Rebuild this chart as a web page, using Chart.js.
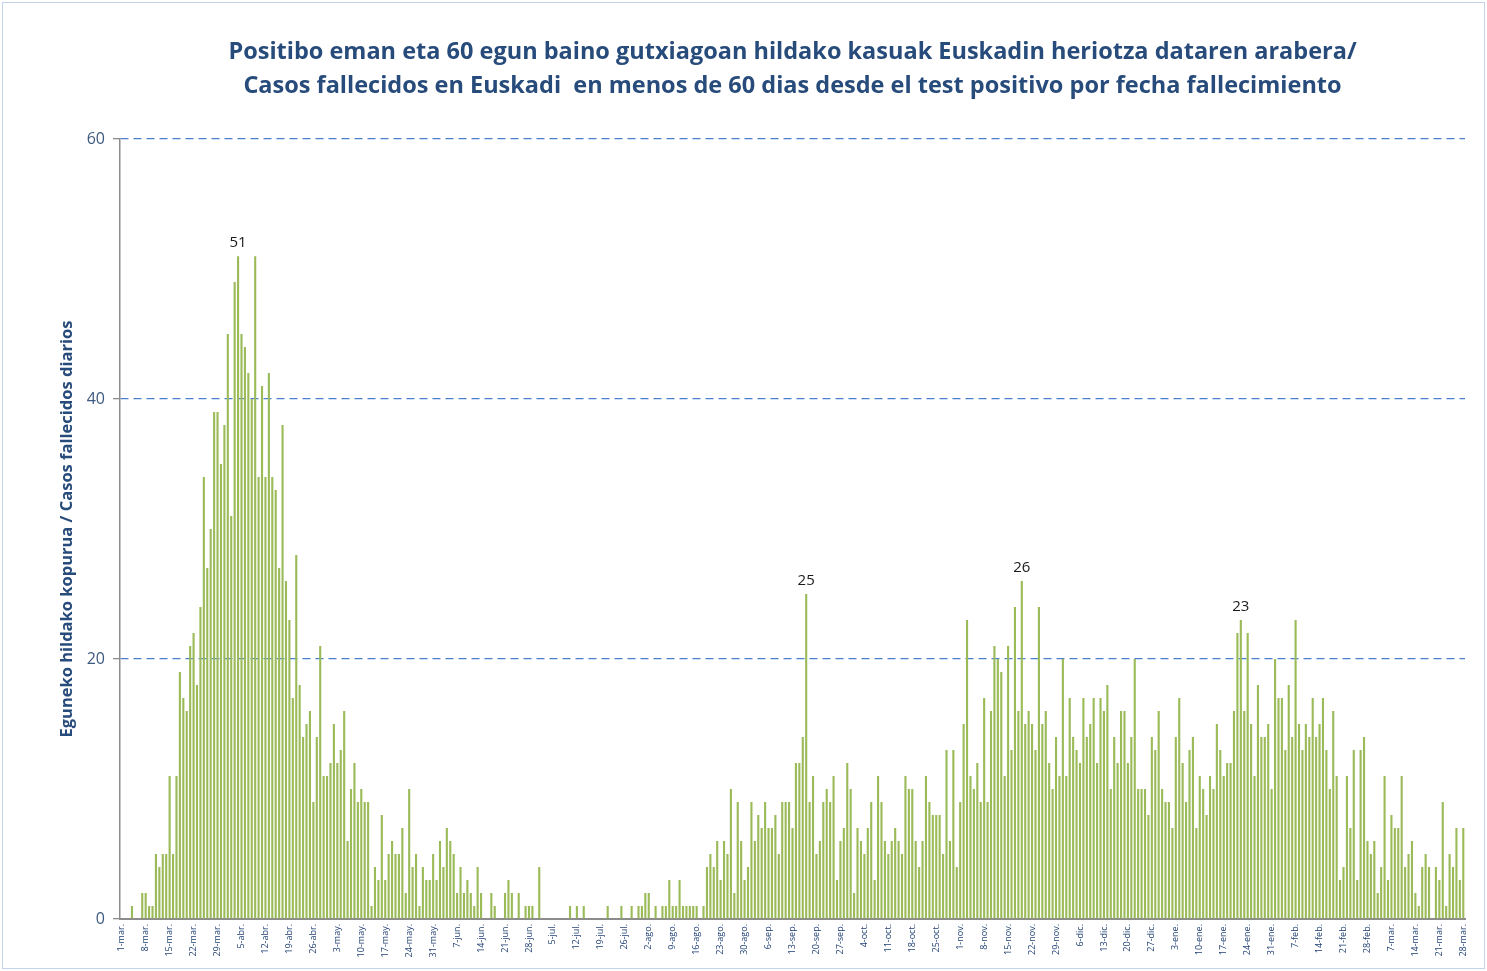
<!DOCTYPE html>
<html>
<head>
<meta charset="utf-8">
<script src="https://cdn.jsdelivr.net/npm/chart.js@4.4.1/dist/chart.umd.min.js"></script>
<style>
    html, body { margin: 0; padding: 0; background: #fff; }
    #wrap { position: relative; width: 1487px; height: 971px; }
    #frame { position: absolute; left: 2px; top: 2px; width: 1481px; height: 965px; border: 1px solid #c3d3ea; pointer-events: none; }
    canvas { position: absolute; left: 0; top: 0; }
</style>
</head>
<body>
<div id="wrap">
    <canvas id="chart" width="1487" height="971"></canvas>
    <div id="frame"></div>
</div>

<script>
    // daily deaths, one array per month (1-mar-2020 .. 28-mar-2021)
    var mar20 = [0,0,0,1,0,0,2,2,1,1,5,4,5,5,11,5,11,19,17,16,21,22,18,24,34,27,30,39,39,35,38];
    var abr20 = [45,31,49,51,45,44,42,40,51,34,41,34,42,34,33,27,38,26,23,17,28,18,14,15,16,9,14,21,11,11];
    var may20 = [12,15,12,13,16,6,10,12,9,10,9,9,1,4,3,8,3,5,6,5,5,7,2,10,4,5,1,4,3,3,5];
    var jun20 = [3,6,4,7,6,5,2,4,2,3,2,1,4,2,0,0,2,1,0,0,2,3,2,0,2,0,1,1,1,0];
    var jul20 = [4,0,0,0,0,0,0,0,0,1,0,1,0,1,0,0,0,0,0,0,1,0,0,0,1,0,0,1,0,1,1];
    var ago20 = [2,2,0,1,0,1,1,3,1,1,3,1,1,1,1,1,0,1,4,5,4,6,3,6,5,10,2,9,6,3,4];
    var sep20 = [9,6,8,7,9,7,7,8,5,9,9,9,7,12,12,14,25,9,11,5,6,9,10,9,11,3,6,7,12,10];
    var oct20 = [2,7,6,5,7,9,3,11,9,6,5,6,7,6,5,11,10,10,6,4,6,11,9,8,8,8,5,13,6,13,4];
    var nov20 = [9,15,23,11,10,12,9,17,9,16,21,20,19,11,21,13,24,16,26,15,16,15,13,24,15,16,12,10,14,11];
    var dic20 = [20,11,17,14,13,12,17,14,15,17,12,17,16,18,10,14,12,16,16,12,14,20,10,10,10,8,14,13,16,10,9];
    var ene21 = [9,7,14,17,12,9,13,14,7,11,10,8,11,10,15,13,11,12,12,16,22,23,16,22,15,11,18,14,14,15,10];
    var feb21 = [20,17,17,13,18,14,23,15,13,15,14,17,14,15,17,13,10,16,11,3,4,11,7,13,3,13,14,6];
    var mar21 = [5,6,2,4,11,3,8,7,7,11,4,5,6,2,1,4,5,4,0,4,3,9,1,5,4,7,3,7];

    // weekly axis labels
    var weekLabels = ["1-mar.","8-mar.","15-mar.","22-mar.","29-mar.","5-abr.","12-abr.","19-abr.","26-abr.",
        "3-may.","10-may.","17-may.","24-may.","31-may.","7-jun.","14-jun.","21-jun.","28-jun.",
        "5-jul.","12-jul.","19-jul.","26-jul.","2-ago.","9-ago.","16-ago.","23-ago.","30-ago.",
        "6-sep.","13-sep.","20-sep.","27-sep.","4-oct.","11-oct.","18-oct.","25-oct.",
        "1-nov.","8-nov.","15-nov.","22-nov.","29-nov.","6-dic.","13-dic.","20-dic.","27-dic.",
        "3-ene.","10-ene.","17-ene.","24-ene.","31-ene.","7-feb.","14-feb.","21-feb.","28-feb.",
        "7-mar.","14-mar.","21-mar.","28-mar."];

    // bars that carry a value label (day index)
    var labelledDays = [34, 200, 263, 327];

    var deaths = [].concat(mar20, abr20, may20, jun20, jul20, ago20, sep20, oct20, nov20, dic20, ene21, feb21, mar21);
    var labels = deaths.map(function (v, i) {
        return i % 7 === 0 ? weekLabels[i / 7] : '';
    });

    var blue = '#274b7a';

    var peakLabels = {
        id: 'peakLabels',
        afterDatasetsDraw: function (chart) {
            var meta = chart.getDatasetMeta(0);
            var ctx = chart.ctx;
            ctx.save();
            ctx.font = '15px "Open Sans"';
            ctx.fillStyle = '#1a1a1a';
            ctx.textAlign = 'center';
            ctx.textBaseline = 'alphabetic';
            labelledDays.forEach(function (i) {
                var bar = meta.data[i];
                ctx.fillText(String(deaths[i]), bar.x, bar.y - 9);
            });
            ctx.restore();
        }
    };

    var chart = new Chart(document.getElementById('chart'), {
        type: 'bar',
        data: {
            labels: labels,
            datasets: [{
                data: deaths,
                backgroundColor: '#9bbb59',
                borderWidth: 0,
                barPercentage: 0.62,
                categoryPercentage: 1
            }]
        },
        plugins: [peakLabels],
        options: {
            responsive: false,
            animation: false,
            layout: { padding: { left: 50, right: 22, top: 0, bottom: 0 } },
            plugins: {
                legend: { display: false },
                tooltip: { enabled: false },
                title: {
                    display: true,
                    fullSize: false,
                    text: ['Positibo eman eta 60 egun baino gutxiagoan hildako kasuak Euskadin heriotza dataren arabera/',
                           'Casos fallecidos en Euskadi  en menos de 60 dias desde el test positivo por fecha fallecimiento'],
                    color: blue,
                    font: { family: '"Open Sans"', size: 23.5, weight: 'bold', lineHeight: 1.45 },
                    padding: { top: 35, bottom: 36 }
                }
            },
            scales: {
                x: {
                    grid: { display: false, drawTicks: false },
                    border: { display: true, color: '#8c8c8c', width: 2 },
                    ticks: {
                        autoSkip: false,
                        maxRotation: 90,
                        minRotation: 90,
                        padding: 5,
                        color: '#1f3f73',
                        font: { family: '"Open Sans"', size: 9 }
                    },
                    afterFit: function (scale) { scale.height = 52; }
                },
                y: {
                    min: 0,
                    max: 60,
                    ticks: {
                        stepSize: 20,
                        padding: 8,
                        color: '#3d5a80',
                        font: { family: '"Open Sans"', size: 16 }
                    },
                    grid: {
                        color: function (c) { return c.tick && c.tick.value === 0 ? 'rgba(0,0,0,0)' : '#4a7fcf'; },
                        lineWidth: 1.3,
                        tickLength: 7,
                        tickColor: '#8c8c8c',
                        tickBorderDash: []
                    },
                    border: { display: true, color: '#8c8c8c', width: 1.5, dash: [8, 5] },
                    title: {
                        display: true,
                        text: 'Eguneko hildako kopurua / Casos fallecidos diarios',
                        color: blue,
                        font: { family: '"Open Sans"', size: 16.5, weight: 'bold' },
                        padding: { top: 7, bottom: 0 }
                    },
                    afterFit: function (scale) { scale.width = 70; }
                }
            }
        }
    });
</script>
</body>
</html>
